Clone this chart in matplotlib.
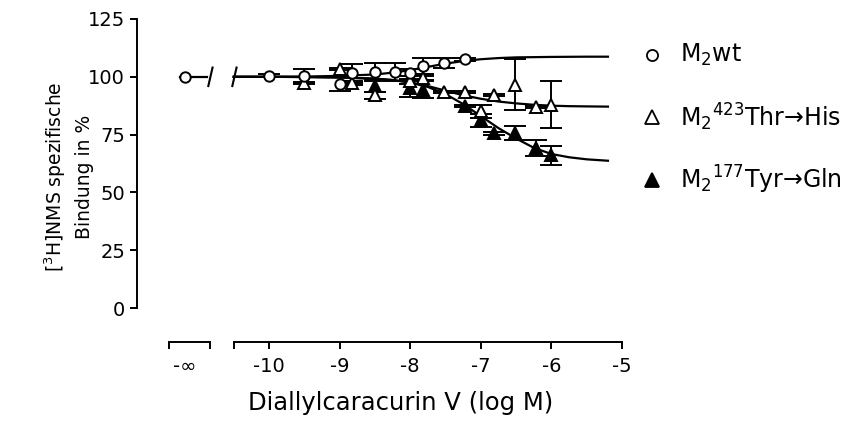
import matplotlib.pyplot as plt
from matplotlib.lines import Line2D

plt.rcParams['font.family'] = 'DejaVu Sans'
plt.rcParams['mathtext.default'] = 'regular'

wt_x = [-10, -9.5, -9, -8.82, -8.5, -8.22, -8, -7.82, -7.52, -7.22]
wt_y = [100.5, 100.5, 96.8, 101.5, 102, 102, 101.8, 104.5, 106, 107.5]
wt_err = [0.5, 3, 3, 4, 4, 4, 1.5, 3.5, 2, 0.5]
wt_inf = 100  # Wert bei -unendlich (ohne Allosteric)

thr_x = [-9.5, -9, -8.82, -8.5, -8, -7.82, -7.52, -7.22, -7, -6.82, -6.52, -6.22, -6]
thr_y = [97.3, 103.5, 97.3, 92, 98, 99.5, 93.4, 93.4, 85, 92, 96.5, 87, 88]
thr_err = [0.5, 0.5, 1, 1.5, 1, 1, 0.5, 0.5, 3, 0.5, 11, 0.5, 10]

tyr_x = [-8.5, -8, -7.82, -7.22, -7, -6.82, -6.52, -6.22, -6]
tyr_y = [96, 95, 94.5, 87.5, 81.3, 75.5, 75.7, 69.3, 66]
tyr_err = [2.5, 3.7, 3.5, 0.5, 2.8, 0.5, 3, 3.5, 4]

fit_x = [-10.5, -10, -9.5, -9, -8.5, -8.25, -8, -7.75, -7.5, -7.25, -7, -6.75,
         -6.5, -6.25, -6, -5.75, -5.5, -5.2]
wt_fit = [100, 100, 100.1, 100.4, 101.0, 101.8, 102.9, 104.3, 105.7, 106.8, 107.6,
          108.1, 108.4, 108.5, 108.6, 108.65, 108.7, 108.7]
thr_fit = [100, 100, 99.9, 99.7, 99.2, 98.6, 97.6, 96.0, 94.0, 92.0, 90.5, 89.3,
           88.5, 87.9, 87.5, 87.3, 87.2, 87.1]
tyr_fit = [100, 100, 99.9, 99.7, 99.2, 98.6, 97.5, 95.6, 92.5, 88.2, 83, 77.8,
           73.3, 69.3, 66.6, 65.2, 64.3, 63.7]

xticks = [-10, -9, -8, -7, -6, -5]
yticks = [0, 25, 50, 75, 100, 125]
labels = [r'M$_2$wt', r'M$_2{}^{423}$Thr→His', r'M$_2{}^{177}$Tyr→Gln']

x_inf = -11.19          # Position fuer -unendlich
inf_axis = (-11.42, -10.84)
ybot = -14.7

fig = plt.figure(figsize=(8.59, 4.25), dpi=100)
ax = fig.add_axes([137/859, 83/425, 488.6/859, 323/425])
ax.set_xlim(-11.87, -4.95)
ax.set_ylim(ybot, 125)

lw = 1.6
ebkw = dict(ecolor='black', elinewidth=1.4, capsize=8, capthick=1.6, mec='black',
            mew=1.4, ls='none', clip_on=False)

ax.plot(fit_x, wt_fit, 'k-', lw=lw, zorder=1)
ax.plot(fit_x, thr_fit, 'k-', lw=lw, zorder=1)
ax.plot(fit_x, tyr_fit, 'k-', lw=lw, zorder=1)

ax.errorbar(tyr_x, tyr_y, yerr=tyr_err, fmt='^', ms=9.3, mfc='black', **ebkw)
ax.errorbar(thr_x, thr_y, yerr=thr_err, fmt='^', ms=9.3, mfc='white', **ebkw)
ax.errorbar(wt_x, wt_y, yerr=wt_err, fmt='o', ms=7.5, mfc='white', **ebkw)

# -unendlich Punkt mit Achsenbruch
ax.plot([-11.26, -10.88], [wt_inf, wt_inf], 'k-', lw=lw, zorder=1)
ax.plot([x_inf], [wt_inf], 'o', ms=7.5, mfc='white', mec='black', mew=1.4)
for xb in (-10.83, -10.49):
    ax.plot([xb - 0.03, xb + 0.03], [wt_inf - 4, wt_inf + 4], 'k-', lw=1.5)

# Achsen
ax.spines['top'].set_visible(False)
ax.spines['right'].set_visible(False)
ax.spines['left'].set_bounds(0, 125)
ax.spines['bottom'].set_bounds(-10.5, -5)
for s in ('left', 'bottom'):
    ax.spines[s].set_linewidth(1.4)
ax.plot(list(inf_axis), [ybot, ybot], 'k-', lw=1.4, clip_on=False)

ax.set_yticks(yticks)
ax.set_yticklabels([str(v) for v in yticks])
ax.set_xticks([inf_axis[0], x_inf, inf_axis[1], -10.5] + xticks)
ax.set_xticklabels(['', '-∞', '', ''] + [str(v) for v in xticks])
ax.xaxis.get_major_ticks()[1].tick1line.set_visible(False)
ax.tick_params(axis='both', direction='out', length=5, width=1.4, labelsize=14)
ax.tick_params(axis='x', pad=6)

fig.text(68/859, 1 - 177/425, '[$^3$H]NMS spezifische\nBindung in %', fontsize=13.5,
         rotation=90, ha='center', va='center', linespacing=1.45, multialignment='center')
fig.text(401/859, 1 - 403/425, 'Diallylcaracurin V (log M)', fontsize=17.5,
         ha='center', va='center')

# Legende
leg_y = [55, 117, 180]
leg_m = [('o', 'white', 8), ('^', 'white', 10.5), ('^', 'black', 10.5)]
for yy, (mk, fc, ms), lab in zip(leg_y, leg_m, labels):
    fig.add_artist(Line2D([652/859], [1 - yy/425], transform=fig.transFigure,
                          marker=mk, ms=ms, mfc=fc, mec='black', mew=1.3, ls='none'))
    fig.text(680/859, 1 - yy/425, lab, fontsize=17, ha='left', va='center')

fig.savefig('out.png', dpi=100)
